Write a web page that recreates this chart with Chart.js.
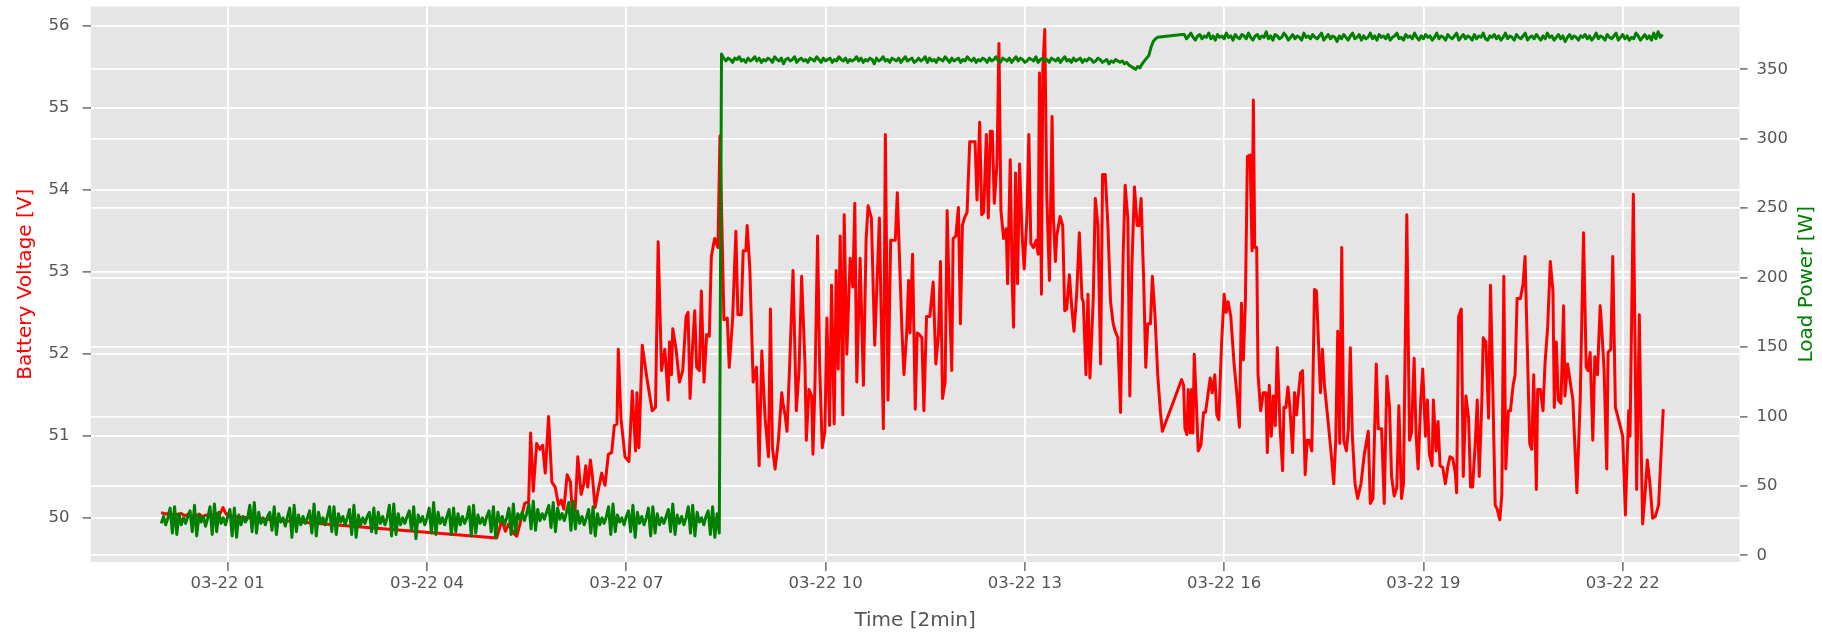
<!DOCTYPE html>
<html>
<head>
<meta charset="utf-8">
<script src="https://cdn.jsdelivr.net/npm/chart.js@4.4.1/dist/chart.umd.min.js"></script>
<style>
html,body{margin:0;padding:0;background:#fff;overflow:hidden}
#wrap{width:1822px;height:633px;position:relative}
</style>
</head>
<body>
<div id="wrap"><canvas id="c" width="1822" height="633"></canvas></div>
<script>
// ---------------- DATA ----------------
const dayLabel = '03-22';
const xTickHours = [1, 4, 7, 10, 13, 16, 19, 22];
const voltTicks = [50, 51, 52, 53, 54, 55, 56];
const powerTicks = [0, 50, 100, 150, 200, 250, 300, 350];

// Battery voltage readings (hour of day, volts)
const redHours = [
0.00,0.03,0.07,0.10,0.13,0.17,0.20,0.23,0.27,0.30,0.33,0.37,0.40,0.43,0.47,0.50,0.53,0.57,0.60,0.63,0.67,0.70,0.73,0.77,0.80,0.83,0.87,0.90,0.93,0.97,1.00,1.03,1.07,
5.05,5.13,5.18,5.23,5.30,5.35,5.40,5.47,5.53,5.56,
5.60,5.65,5.70,5.74,5.78,5.83,5.88,5.93,5.98,6.02,
6.06,6.11,6.16,6.19,6.23,6.27,6.32,6.36,6.39,6.42,
6.46,6.49,6.53,6.58,6.63,6.68,6.73,6.78,6.82,6.86,
6.88,6.92,6.98,7.04,7.09,7.14,7.16,7.19,7.24,7.31,
7.39,7.44,
7.48,7.53,7.58,7.60,7.63,7.65,7.68,7.70,7.75,7.80,
7.85,7.90,7.93,7.96,8.00,8.03,8.06,8.10,8.13,8.17,
8.21,8.25,8.28,8.33,8.38,8.41,8.47,8.52,8.55,8.60,
8.65,8.68,8.73,8.76,8.80,8.82,8.86,8.91,8.96,9.00,
9.04,9.09,9.14,9.17,9.20,9.24,9.29,9.34,9.36,9.39,
9.42,9.46,9.51,9.56,9.60,9.64,9.69,9.71,9.75,9.79,
9.81,9.84,9.88,9.91,9.95,9.99,10.02,10.06,10.09,10.13,
10.16,10.19,10.22,10.26,10.28,10.32,10.37,10.41,10.44,10.47,
10.52,10.57,10.61,10.64,10.69,10.74,10.81,10.87,10.90,10.94,
10.98,11.05,11.08,
11.15,11.18,11.22,11.25,11.27,11.31,11.35,11.38,11.41,11.45,
11.48,11.52,11.57,11.62,11.66,11.70,11.73,11.76,11.80,11.83,
11.86,11.90,11.92,11.96,12.00,12.03,12.06,12.09,12.13,12.17,
12.22,12.25,12.28,12.32,12.35,12.38,12.42,12.45,12.48,12.51,
12.54,12.58,12.61,12.64,12.68,12.72,12.74,12.78,12.81,12.83,
12.86,12.89,12.92,12.96,12.99,13.03,13.06,13.09,13.13,13.17,
13.20,13.22,13.25,13.27,13.30,13.33,13.37,13.41,13.43,13.46,
13.48,13.53,13.57,13.60,13.63,13.67,13.71,13.74,13.78,13.82,
13.86,13.88,13.92,13.95,13.98,14.03,14.06,14.10,14.14,14.17,
14.21,14.25,14.29,14.33,14.36,14.40,14.44,14.48,14.51,14.55,
14.58,14.61,14.65,14.69,14.72,14.75,14.79,14.82,14.85,14.89,
14.92,14.96,15.00,15.04,15.07,
15.36,15.39,15.41,15.44,15.46,15.49,15.51,15.53,15.55,15.58,
15.61,15.65,15.69,15.72,15.76,15.79,15.82,15.86,15.89,15.92,
15.96,16.00,16.03,16.06,16.10,16.15,16.19,16.23,16.26,16.29,
16.32,16.35,16.39,16.42,16.44,16.46,16.49,16.51,16.55,16.59,
16.63,16.65,16.68,16.71,16.74,16.77,16.80,16.84,16.88,16.90,
16.93,16.96,16.99,17.03,17.06,17.09,17.12,17.15,17.18,17.22,
17.25,17.28,17.32,17.36,17.39,17.42,17.45,17.48,17.51,17.56,
17.61,17.65,17.68,17.71,17.74,17.77,17.80,17.84,17.87,17.90,
17.93,17.97,18.01,18.06,18.11,18.17,18.20,18.24,18.29,18.32,
18.37,18.41,18.45,18.49,18.52,18.56,18.60,18.63,18.67,18.70,
18.75,18.79,18.82,18.86,18.89,18.92,18.96,18.99,19.03,19.06,
19.09,19.13,19.15,19.19,19.22,19.25,19.29,19.33,19.37,19.40,
19.44,19.48,19.50,19.53,19.57,19.60,19.64,19.68,19.71,19.74,
19.78,19.81,19.84,19.88,19.90,19.94,19.98,20.01,20.04,20.08,
20.11,20.15,20.18,20.21,20.24,20.28,20.31,20.35,20.38,20.41,
20.46,20.50,20.53,20.57,20.60,20.63,20.66,20.70,20.72,20.76,
20.80,20.83,20.87,20.91,20.95,20.97,21.00,21.03,21.07,21.11,
21.13,21.17,21.21,21.25,21.31,21.36,21.41,21.45,21.48,21.51,
21.55,21.58,21.62,21.66,21.68,21.72,21.76,21.78,21.82,21.85,
21.89,21.92,21.96,22.00,22.04,22.09,22.11,22.16,22.21,22.25,
22.28,22.30,22.34,22.37,22.41,22.45,22.49,22.54,22.61
];
const redVolts = [
50.07,50.06,50.05,50.06,50.04,50.05,50.03,50.05,50.04,50.06,50.04,50.03,50.05,50.04,50.02,50.04,50.03,50.05,50.03,50.02,50.04,50.03,50.05,50.02,50.03,50.06,50.04,50.08,50.13,50.06,50.03,50.05,50.02,
49.76,49.98,49.84,49.93,49.82,49.78,49.93,50.18,50.20,51.04,
50.33,50.91,50.84,50.89,50.55,51.24,50.44,50.38,50.16,50.22,
50.11,50.53,50.44,50.02,50.11,50.75,50.29,50.42,50.64,50.38,
50.71,50.51,50.13,50.35,50.55,50.40,50.78,50.80,51.13,51.15,
52.06,51.22,50.75,50.69,51.55,50.82,51.53,50.86,52.11,51.71,
51.31,51.35,
53.37,51.80,52.06,51.84,51.44,52.15,51.75,52.31,52.06,51.66,
51.80,52.46,52.51,51.46,52.13,52.53,51.84,51.80,52.77,51.66,
52.24,52.22,53.19,53.41,53.30,54.66,52.42,52.44,51.84,52.42,
53.50,52.48,52.48,53.26,53.26,53.57,53.04,51.66,51.84,50.64,
52.04,51.22,50.75,52.55,50.86,50.60,50.95,51.53,51.40,51.26,
51.06,51.88,53.02,51.31,51.80,52.95,51.88,50.95,51.57,51.49,
50.78,51.62,53.44,51.88,50.86,51.06,52.44,51.13,52.84,51.15,
53.02,51.82,53.44,51.26,53.70,52.00,53.17,52.82,53.84,51.66,
53.17,51.62,53.39,53.81,53.66,52.11,53.66,51.09,54.68,51.44,
53.39,53.39,53.97,
52.28,51.75,52.24,52.90,52.26,53.22,51.33,52.26,52.24,52.20,
51.31,52.46,52.46,52.88,51.88,52.24,53.13,51.46,51.66,53.75,
52.77,51.80,53.41,53.44,53.79,52.37,53.57,53.66,53.73,54.59,
54.59,54.59,53.88,54.83,53.70,53.73,54.68,53.66,54.72,54.72,
53.84,54.32,55.79,53.75,53.41,53.53,52.86,54.37,52.86,52.33,
54.21,52.86,54.32,53.44,53.04,53.66,54.68,53.35,53.30,53.39,
53.22,55.43,52.73,55.48,55.96,53.92,52.90,54.90,53.66,53.13,
53.44,53.68,53.57,52.53,52.55,52.97,52.53,52.28,52.73,53.48,
52.68,52.64,51.75,52.73,51.71,52.68,53.90,53.57,51.88,54.19,
54.19,53.57,52.64,52.37,52.28,52.20,51.29,53.22,54.06,53.66,
51.49,53.04,54.04,53.57,53.57,53.90,52.86,51.84,52.37,52.37,
52.95,52.46,51.75,51.30,51.06,
51.69,51.62,51.09,51.02,51.57,51.04,51.57,51.04,52.00,51.44,
50.82,50.89,51.29,51.29,51.53,51.71,51.53,51.75,51.26,51.20,
52.11,52.73,52.51,52.64,52.46,51.88,51.53,51.11,52.62,51.93,
52.64,54.41,54.43,53.26,55.10,53.30,53.30,51.75,51.31,51.53,
51.53,50.80,51.62,51.00,51.49,51.13,52.08,51.13,50.58,51.35,
51.35,51.60,51.35,50.80,51.53,51.26,51.53,51.77,51.80,50.53,
50.95,50.95,50.82,52.79,52.77,52.15,51.53,52.06,51.62,51.22,
50.80,50.42,50.95,52.28,50.91,53.30,50.95,50.82,51.09,52.08,
51.00,50.42,50.24,50.42,50.78,51.06,50.18,50.24,51.88,51.09,
51.09,50.18,51.73,51.35,50.51,50.27,50.38,51.37,50.24,50.42,
53.70,50.95,51.04,51.95,51.00,50.60,51.44,51.82,51.00,51.44,
50.78,50.64,51.44,50.82,51.18,50.64,50.62,50.42,50.64,50.75,
50.73,50.55,50.31,52.46,52.55,50.51,51.49,51.22,50.38,50.38,
50.91,51.44,50.51,51.44,52.20,52.15,51.22,52.84,51.75,50.16,
50.11,49.98,50.29,52.95,50.60,51.31,51.31,51.62,51.75,52.68,
52.68,52.86,53.19,51.88,50.91,50.84,51.75,50.35,51.57,51.57,
51.31,51.88,52.33,53.13,52.77,51.35,52.15,51.44,51.40,52.59,
51.49,51.88,51.66,51.44,50.31,51.44,53.48,51.84,51.80,52.02,
50.95,51.97,51.75,52.59,52.37,51.80,50.60,52.02,52.06,53.19,
51.35,51.26,51.13,51.00,50.04,51.31,51.00,53.95,50.35,52.48,
50.78,49.93,50.34,50.71,50.42,50.00,50.02,50.16,51.33
];

// Load power, sampled every 2 minutes (values in W)
const sampleMinutes = 2;
const greenLowStartMin = 0;      // 00:00
const greenLow = [
23,28,22,27,34,16,35,15,30, 22,27,23,28,32,17,36,14,29, 24,28,21,27,35,15,37,17,31,
23,27,22,28,33,14,34,13,29, 22,28,24,27,36,17,38,16,31, 23,27,22,28,31,18,35,15,30,
24,27,21,28,34,13,36,17,29, 22,28,23,27,32,16,37,14,31, 23,27,22,28,35,17,35,15,30,
24,28,22,27,33,15,36,13,29, 22,27,23,28,31,17,34,16,31, 23,28,22,27,36,14,37,15,30,
22,27,23,28,32,18,35,12,29, 24,28,22,27,34,16,38,15,31, 23,27,22,28,33,15,34,17,30,
22,28,23,27,35,14,36,16,29, 23,27,22,28,32,17,35,13,31, 24,28,22,27,34,15,37,16,30,
26,31,25,30,37,19,39,18,33, 25,30,26,31,36,20,38,17,34, 26,30,25,31,38,18,39,19,32,
23,28,22,27,33,16,35,14,30, 22,27,23,28,35,15,37,17,29, 24,27,22,28,32,17,36,13,31,
23,28,22,27,34,14,35,16,30, 22,27,23,28,33,17,37,15,29, 23,28,22,27,35,16,36,14,31,
24,27,22,28,32,15,35,13,30, 16
];
const greenMidStartMin = 506;    // 08:26
const greenMid = [
361,358,356,358,357,355,358,357,359,356,357,355,358,356,357,359,356,358,355,357,356,358,357,355,359,357,356,358,354,357,
358,356,357,359,355,357,358,356,357,355,358,357,356,359,357,355,358,356,357,358,355,357,356,359,357,356,358,355,357,356,
357,359,356,358,355,357,356,358,357,354,358,356,357,359,356,357,355,358,357,356,358,355,357,359,356,357,358,355,356,358,
356,357,359,355,358,356,357,355,358,357,356,359,357,355,358,356,357,358,355,357,356,359,357,356,358,355,357,356,358,357,
355,358,356,357,359,356,355,358,357,356,358,355,357,359,356,358,357,355,356,358,357,356,359,355,357,358,356,357,355,358,
357,356,358,355,357,359,356,357,355,358,356,357,358,355,357,356,358,357,355,356,358,357,355,356,357,354,356,355,357,356,
355,356,354,355,353,352,351,350,352,351,354,356,358
];
const greenStepHours = [14.867, 14.900, 14.933, 14.967, 15.000, 15.367];
const greenStepWatts = [360, 366, 370, 372, 373, 375];
const greenHighStartMin = 924;   // 15:24
const greenHigh = [
375,372,374,376,373,371,374,375,372,374,373,376,372,374,371,375,373,374,372,376,373,374,371,375,373,372,375,374,372,376,
373,371,374,375,372,374,373,377,372,374,371,375,374,372,373,376,374,371,373,375,372,374,373,371,376,373,374,372,375,373,
372,374,376,371,373,375,372,374,373,370,374,372,375,373,371,374,376,372,373,375,371,374,372,373,376,372,374,371,375,373,
374,372,375,371,373,374,376,372,373,371,375,373,374,372,376,373,371,374,372,375,373,374,371,373,376,372,374,373,371,375,
373,372,374,376,371,373,375,372,374,373,371,375,372,374,373,376,372,371,374,373,375,372,374,371,373,376,372,374,373,371,
375,373,372,374,376,371,373,374,372,375,373,371,374,372,376,373,374,371,373,375,372,374,370,373,375,372,374,373,371,374,
373,375,372,374,371,373,376,372,374,373,371,375,373,372,374,376,371,373,375,372,374,371,373,372,376,374,371,373,375,372,
374,371,376,372,377,373,375
];

// ---------------- BUILD ----------------
const redPoints = [];
for (let i = 0; i < Math.min(redHours.length, redVolts.length); i++) {
  redPoints.push({x: redHours[i], y: redVolts[i]});
}
const greenPoints = [];
function addSeg(startMin, vals) {
  vals.forEach((v, i) => greenPoints.push({x: (startMin + i * sampleMinutes) / 60, y: v}));
}
addSeg(greenLowStartMin, greenLow);
addSeg(greenMidStartMin, greenMid);
greenStepHours.forEach((h, i) => greenPoints.push({x: h, y: greenStepWatts[i]}));
addSeg(greenHighStartMin, greenHigh);

const FONT = 'DejaVu Sans';
const TICK_COLOR = '#555555';
const pad2 = n => (n < 10 ? '0' : '') + n;

const bgPlugin = {
  id: 'bg',
  beforeDraw(chart) {
    const {ctx, chartArea: a} = chart;
    ctx.save();
    ctx.fillStyle = '#ffffff';
    ctx.fillRect(0, 0, chart.width, chart.height);
    ctx.fillStyle = '#E5E5E5';
    ctx.fillRect(a.left, a.top, a.right - a.left, a.bottom - a.top);
    ctx.restore();
  }
};
const rightTitlePlugin = {
  id: 'rightTitle',
  afterDraw(chart) {
    const {ctx, chartArea: a} = chart;
    ctx.save();
    ctx.translate(1807, (a.top + a.bottom) / 2);
    ctx.rotate(-Math.PI / 2);
    ctx.fillStyle = 'green';
    ctx.font = '20px "' + FONT + '"';
    ctx.textAlign = 'center';
    ctx.textBaseline = 'middle';
    ctx.fillText('Load Power [W]', 0, 0);
    ctx.restore();
  }
};
const noPadV = s => { s.paddingTop = 0; s.paddingBottom = 0; };

new Chart(document.getElementById('c'), {
  type: 'line',
  data: {
    datasets: [
      {
        label: 'Load Power [W]',
        data: greenPoints,
        yAxisID: 'y2',
        borderColor: '#008000',
        borderWidth: 3,
        pointRadius: 0,
        tension: 0,
        fill: false,
        order: 0,
        borderJoinStyle: 'round'
      },
      {
        label: 'Battery Voltage [V]',
        data: redPoints,
        yAxisID: 'y',
        borderColor: '#FF0000',
        borderWidth: 3,
        pointRadius: 0,
        tension: 0,
        fill: false,
        order: 1,
        borderJoinStyle: 'round'
      }
    ]
  },
  options: {
    responsive: false,
    animation: false,
    devicePixelRatio: 1,
    layout: {padding: {top: 6.5, left: 0, right: 0, bottom: 0}},
    plugins: {legend: {display: false}, tooltip: {enabled: false}},
    scales: {
      x: {
        type: 'linear',
        position: 'bottom',
        min: -1.064,
        max: 23.758,
        afterBuildTicks: s => { s.ticks = xTickHours.map(v => ({value: v})); },
        afterFit: s => { s.height = 71; s.paddingLeft = 0; s.paddingRight = 0; },
        ticks: {
          autoSkip: false,
          maxRotation: 0,
          color: TICK_COLOR,
          padding: 3,
          font: {family: FONT, size: 16.5},
          callback: v => dayLabel + ' ' + pad2(v)
        },
        grid: {color: '#ffffff', lineWidth: 1.8, tickColor: TICK_COLOR, tickLength: 9, tickWidth: 1.3},
        border: {display: false},
        title: {display: true, text: 'Time [2min]', color: TICK_COLOR, font: {family: FONT, size: 20}, padding: {top: 0, bottom: 0}}
      },
      y: {
        type: 'linear',
        position: 'left',
        min: 49.466,
        max: 56.24,
        afterBuildTicks: s => { s.ticks = voltTicks.map(v => ({value: v})); },
        afterFit: s => { s.width = 90.6; noPadV(s); },
        ticks: {color: TICK_COLOR, padding: 13, font: {family: FONT, size: 16.5}},
        grid: {color: '#ffffff', lineWidth: 1.8, tickColor: TICK_COLOR, tickLength: 8, tickWidth: 1.3},
        border: {display: false},
        title: {display: true, text: 'Battery Voltage [V]', color: '#FF0000', font: {family: FONT, size: 20}, padding: {top: 14, bottom: 0}}
      },
      y2: {
        type: 'linear',
        position: 'right',
        min: -4.8,
        max: 395.2,
        afterBuildTicks: s => { s.ticks = powerTicks.map(v => ({value: v})); },
        afterFit: s => { s.width = 82.5; noPadV(s); },
        ticks: {color: TICK_COLOR, padding: 9, font: {family: FONT, size: 16.5}},
        grid: {color: '#ffffff', lineWidth: 1.8, tickColor: TICK_COLOR, tickLength: 8, tickWidth: 1.3},
        border: {display: false}
      }
    }
  },
  plugins: [bgPlugin, rightTitlePlugin]
});
</script>
</body>
</html>
